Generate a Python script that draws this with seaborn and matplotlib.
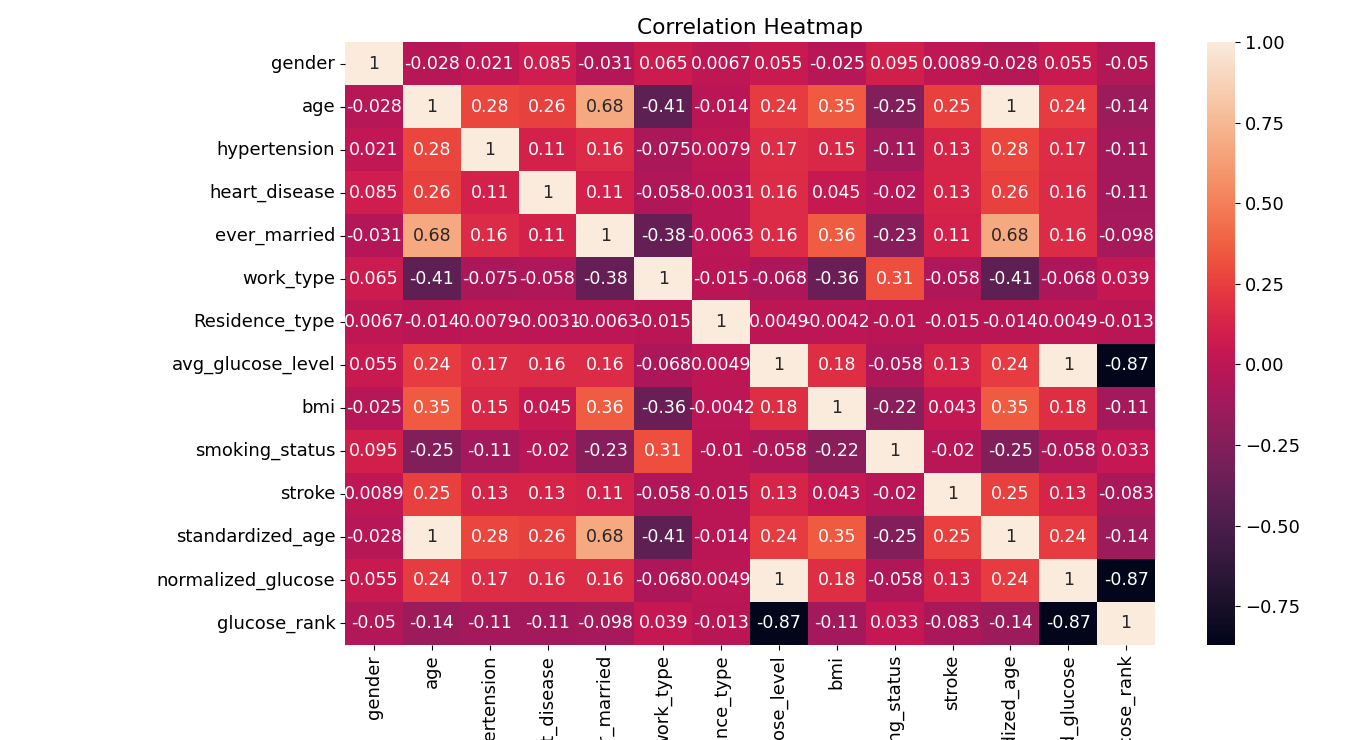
import numpy as np
import pandas as pd
import matplotlib
matplotlib.use("Agg")
import matplotlib.pyplot as plt
import seaborn as sns

cols = ["gender", "age", "hypertension", "heart_disease", "ever_married", "work_type",
        "Residence_type", "avg_glucose_level", "bmi", "smoking_status", "stroke",
        "standardized_age", "normalized_glucose", "glucose_rank"]

gender = [1, -0.028, 0.021, 0.085, -0.031, 0.065, 0.0067, 0.055, -0.025, 0.095, 0.0089, -0.028, 0.055, -0.05]
age = [-0.028, 1, 0.28, 0.26, 0.68, -0.41, -0.014, 0.24, 0.35, -0.25, 0.25, 1, 0.24, -0.14]
hypertension = [0.021, 0.28, 1, 0.11, 0.16, -0.075, 0.0079, 0.17, 0.15, -0.11, 0.13, 0.28, 0.17, -0.11]
heart_disease = [0.085, 0.26, 0.11, 1, 0.11, -0.058, -0.0031, 0.16, 0.045, -0.02, 0.13, 0.26, 0.16, -0.11]
ever_married = [-0.031, 0.68, 0.16, 0.11, 1, -0.38, -0.0063, 0.16, 0.36, -0.23, 0.11, 0.68, 0.16, -0.098]
work_type = [0.065, -0.41, -0.075, -0.058, -0.38, 1, -0.015, -0.068, -0.36, 0.31, -0.058, -0.41, -0.068, 0.039]
residence = [0.0067, -0.014, 0.0079, -0.0031, -0.0063, -0.015, 1, 0.0049, -0.0042, -0.01, -0.015, -0.014, 0.0049, -0.013]
avg_glucose = [0.055, 0.24, 0.17, 0.16, 0.16, -0.068, 0.0049, 1, 0.18, -0.058, 0.13, 0.24, 1, -0.87]
bmi = [-0.025, 0.35, 0.15, 0.045, 0.36, -0.36, -0.0042, 0.18, 1, -0.22, 0.043, 0.35, 0.18, -0.11]
smoking = [0.095, -0.25, -0.11, -0.02, -0.23, 0.31, -0.01, -0.058, -0.22, 1, -0.02, -0.25, -0.058, 0.033]
stroke = [0.0089, 0.25, 0.13, 0.13, 0.11, -0.058, -0.015, 0.13, 0.043, -0.02, 1, 0.25, 0.13, -0.083]
std_age = age
norm_glucose = avg_glucose
glucose_rank = [-0.05, -0.14, -0.11, -0.11, -0.098, 0.039, -0.013, -0.87, -0.11, 0.033, -0.083, -0.14, -0.87, 1]

corr = pd.DataFrame([gender, age, hypertension, heart_disease, ever_married, work_type,
                     residence, avg_glucose, bmi, smoking, stroke, std_age, norm_glucose,
                     glucose_rank], index=cols, columns=cols)

plt.rcParams['font.size'] = 13

fig = plt.figure(figsize=(13.5, 7.4), dpi=100)
ax = fig.add_axes([345/1350, 1 - 645/740, 810/1350, 603/740])
cax = fig.add_axes([1207/1350, 1 - 645/740, 28/1350, 603/740])
sns.heatmap(corr, annot=True, ax=ax, cbar_ax=cax, annot_kws={'fontsize': 12.5})
ax.set_title("Correlation Heatmap", pad=6)
fig.savefig("out.png", dpi=100)
